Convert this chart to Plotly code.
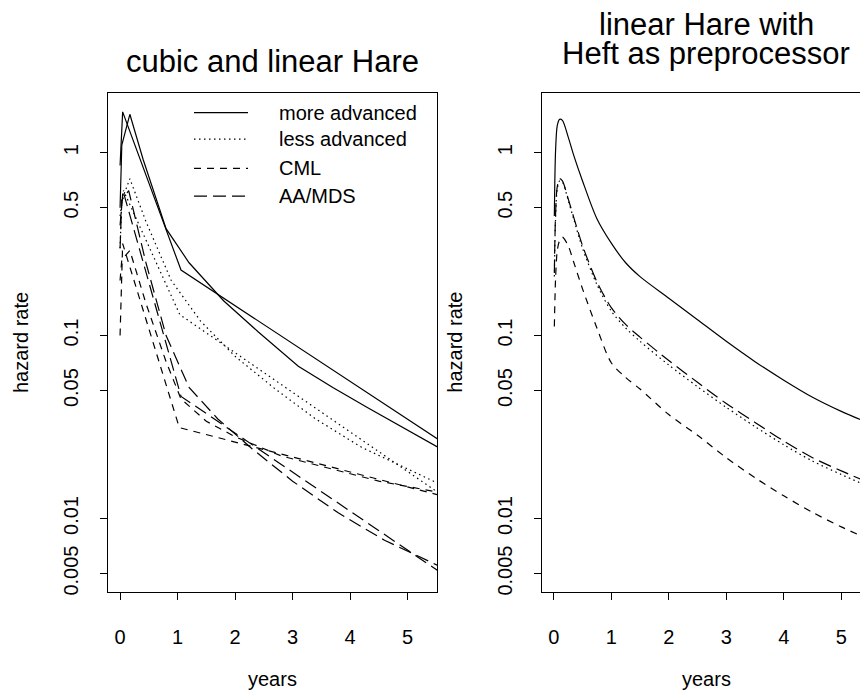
import plotly.graph_objects as go

W, H = 860, 694

# ---- left panel: cubic and linear Hare fits (years, hazard rate) ----
more_lin_x = [0.0, 0.045, 1.06, 5.6]
more_lin_y = [0.85, 1.67, 0.228, 0.0262]
more_cub_x = [0.0, 0.03, 0.17, 0.4, 0.8, 1.2, 1.8, 2.4, 3.1, 3.7, 4.3, 5.6]
more_cub_y = [0.50, 1.10, 1.62, 0.92, 0.384, 0.25, 0.155, 0.105, 0.068, 0.052, 0.0404, 0.0238]

less_lin_x = [0.0, 0.06, 1.04, 5.6]
less_lin_y = [0.45, 0.62, 0.130, 0.0134]
less_cub_x = [0.0, 0.03, 0.17, 0.45, 0.89, 1.4, 2.0, 2.7, 3.4, 4.2, 5.6]
less_cub_y = [0.30, 0.55, 0.72, 0.42, 0.20, 0.12, 0.077, 0.051, 0.035, 0.0245, 0.0152]

cml_lin_x = [0.0, 0.045, 1.03, 5.6]
cml_lin_y = [0.10, 0.318, 0.0314, 0.0133]
cml_cub_x = [0.0, 0.03, 0.17, 0.45, 0.8, 1.06, 1.5, 2.0, 2.8, 3.6, 4.5, 5.6]
cml_cub_y = [0.20, 0.26, 0.292, 0.15, 0.072, 0.045, 0.034, 0.028, 0.022, 0.019, 0.016, 0.0138]

aa_lin_x = [0.0, 0.05, 1.06, 5.6]
aa_lin_y = [0.40, 0.62, 0.0465, 0.0050]
aa_cub_x = [0.0, 0.03, 0.15, 0.45, 0.8, 1.2, 1.7, 2.3, 3.0, 3.8, 4.6, 5.6]
aa_cub_y = [0.30, 0.55, 0.62, 0.25, 0.10, 0.052, 0.035, 0.024, 0.016, 0.0107, 0.0076, 0.0054]

# ---- right panel: linear Hare with Heft as preprocessor ----
r_x = [0.01, 0.03, 0.06, 0.10, 0.15, 0.25, 0.35, 0.5, 0.75, 1.0,
       1.25, 1.5, 2.0, 2.5, 3.0, 3.5, 4.0, 4.5, 5.0, 5.4]
r_more = [0.45, 1.00, 1.40, 1.52, 1.50, 1.22, 0.96, 0.70, 0.435, 0.32,
          0.25, 0.21, 0.160, 0.122, 0.093, 0.072, 0.057, 0.046, 0.0385, 0.0340]
r_less = [0.21, 0.43, 0.63, 0.70, 0.69, 0.55, 0.43, 0.30, 0.190, 0.136,
          0.110, 0.093, 0.069, 0.0525, 0.0405, 0.0318, 0.0253, 0.0206, 0.0174, 0.0153]
r_cml = [0.112, 0.20, 0.29, 0.33, 0.345, 0.31, 0.25, 0.18, 0.110, 0.071,
         0.059, 0.051, 0.037, 0.0285, 0.0215, 0.0167, 0.0133, 0.0108, 0.0090, 0.0079]
r_aa = [0.22, 0.45, 0.65, 0.72, 0.70, 0.56, 0.44, 0.31, 0.197, 0.142,
        0.115, 0.098, 0.073, 0.0555, 0.0425, 0.0335, 0.0265, 0.0215, 0.0182, 0.0161]

legend_labels = ["more advanced", "less advanced", "CML", "AA/MDS"]
y_tick_vals = [0.005, 0.01, 0.05, 0.1, 0.5, 1]
y_tick_text = ["0.005", "0.01", "0.05", "0.1", "0.5", "1"]
x_tick_vals = [0, 1, 2, 3, 4, 5]

FONT = "Liberation Sans, Arial, Helvetica, sans-serif"
LW = 1.2
DASH = {
    "more": "solid",
    "less": "1.5px,3.5px",
    "cml": "7px,6px",
    "aa": "13px,6px",
}


def px_x(p):
    return p / W


def px_y(p):
    return 1 - p / H


fig = go.Figure()


def add_line(x, y, kind, xa, ya, smooth=False):
    fig.add_trace(go.Scatter(
        x=x, y=y, mode="lines", xaxis=xa, yaxis=ya, showlegend=False,
        line=dict(color="black", width=LW, dash=DASH[kind],
                  shape="spline" if smooth else "linear", smoothing=0.8),
        hoverinfo="skip",
    ))


add_line(more_lin_x, more_lin_y, "more", "x", "y")
add_line(more_cub_x, more_cub_y, "more", "x", "y")
add_line(less_lin_x, less_lin_y, "less", "x", "y")
add_line(less_cub_x, less_cub_y, "less", "x", "y")
add_line(cml_lin_x, cml_lin_y, "cml", "x", "y")
add_line(cml_cub_x, cml_cub_y, "cml", "x", "y")
add_line(aa_lin_x, aa_lin_y, "aa", "x", "y")
add_line(aa_cub_x, aa_cub_y, "aa", "x", "y")

add_line(r_x, r_more, "more", "x2", "y2", smooth=True)
add_line(r_x, r_less, "less", "x2", "y2", smooth=True)
add_line(r_x, r_cml, "cml", "x2", "y2", smooth=True)
add_line(r_x, r_aa, "aa", "x2", "y2", smooth=True)

# plot regions in pixels
L_LEFT, L_RIGHT = 108.0, 437.3
R_LEFT = 541.7
TOP, BOT = 94.0, 595.0
XPX = 57.5  # pixels per year
X0 = -0.21
y_range = [-2.3995, 0.3234]

axis_common = dict(
    showgrid=False, zeroline=False, ticks="outside", ticklen=7,
    tickwidth=1, tickcolor="black", linecolor="black", linewidth=1,
    showline=True, tickfont=dict(family=FONT, size=20, color="black"),
)
x_axis_common = dict(tickvals=x_tick_vals, ticklabelstandoff=20, **axis_common)
y_axis_common = dict(type="log", range=y_range, tickvals=y_tick_vals,
                     ticktext=y_tick_text, tickangle=-90, ticklabelstandoff=14,
                     domain=[px_y(BOT), px_y(TOP)], **axis_common)

fig.update_layout(
    width=W, height=H, margin=dict(l=0, r=0, t=0, b=0),
    paper_bgcolor="white", plot_bgcolor="white",
    xaxis=dict(domain=[px_x(L_LEFT), px_x(L_RIGHT)],
               range=[X0, X0 + (L_RIGHT - L_LEFT) / XPX],
               mirror=True, anchor="y", **x_axis_common),
    yaxis=dict(mirror=True, anchor="x", **y_axis_common),
    xaxis2=dict(domain=[px_x(R_LEFT), 1.0],
                range=[X0, X0 + (W - R_LEFT) / XPX],
                mirror=True, anchor="y2", **x_axis_common),
    yaxis2=dict(mirror=False, anchor="x2", **y_axis_common),
)

txt = dict(family=FONT, color="black")
annotations = []
left_c = (L_LEFT + L_RIGHT) / 2
right_c = R_LEFT + (L_RIGHT - L_LEFT) / 2

annotations.append(dict(text="cubic and linear Hare", x=px_x(left_c), y=px_y(62),
                        font=dict(size=31, **txt)))
annotations.append(dict(text="linear Hare with", x=px_x(right_c), y=px_y(24.5),
                        font=dict(size=31, **txt)))
annotations.append(dict(text="Heft as preprocessor", x=px_x(right_c), y=px_y(54),
                        font=dict(size=31, **txt)))
for cx in (left_c, right_c):
    annotations.append(dict(text="years", x=px_x(cx), y=px_y(683),
                            font=dict(size=20, **txt)))
for ax_left in (L_LEFT, R_LEFT):
    annotations.append(dict(text="hazard rate", x=px_x(ax_left - 87.5), y=px_y(344.5),
                            textangle=-90, font=dict(size=20, **txt)))

# legend drawn inside the left panel
leg_rows = [113.3, 140.0, 169.3, 197.3]
shapes = []
for lab, row, kind in zip(legend_labels, leg_rows, ["more", "less", "cml", "aa"]):
    shapes.append(dict(type="line", xref="paper", yref="paper",
                       x0=px_x(194), x1=px_x(248), y0=px_y(row), y1=px_y(row),
                       line=dict(color="black", width=LW, dash=DASH[kind])))
    annotations.append(dict(text=lab, x=px_x(276.5), y=px_y(row), xanchor="left",
                            font=dict(size=20, **txt)))

for a in annotations:
    a.setdefault("xref", "paper")
    a.setdefault("yref", "paper")
    a.setdefault("showarrow", False)
    a.setdefault("xanchor", "center")
    a.setdefault("yanchor", "middle")

fig.update_layout(annotations=annotations, shapes=shapes)
fig.write_html("out.html")
